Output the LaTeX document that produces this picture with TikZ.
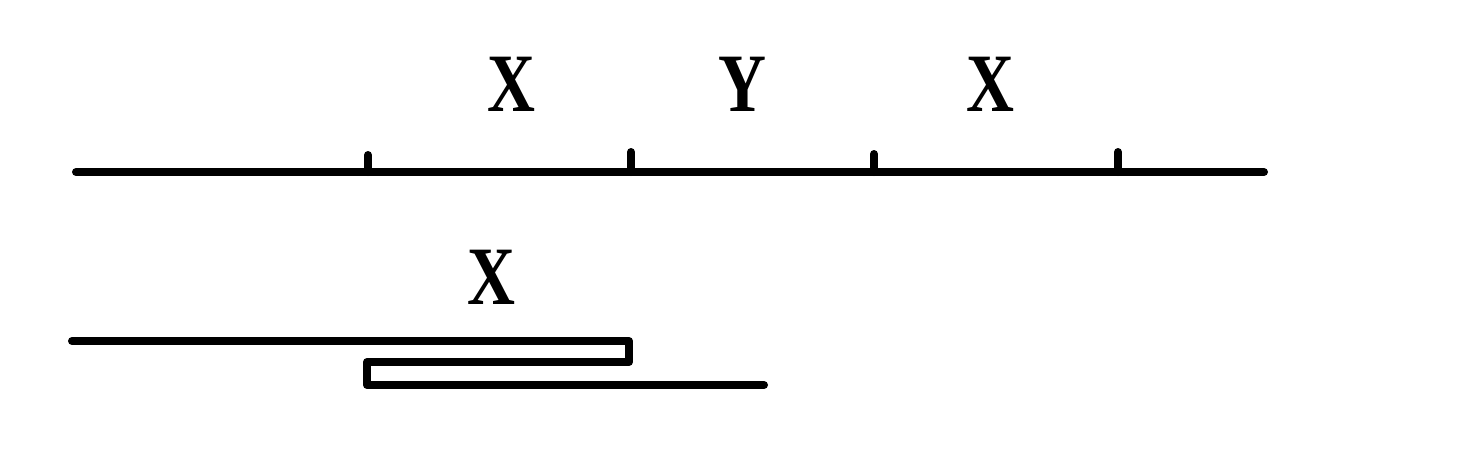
\documentclass[tikz,border=0pt]{standalone}
\usepackage{fontspec}
\setmainfont{Liberation Serif}
\newfontfamily\lblfont[FakeStretch=0.8]{Liberation Serif}
\begin{document}
\begin{tikzpicture}[x=1pt,y=-1pt,
  thick line/.style={line width=8pt,line cap=round,line join=round},
  lbl/.style={font=\fontsize{83}{83}\lblfont\bfseries,inner sep=0pt,anchor=base}]
\useasboundingbox (0,0) rectangle (1475,455);
% top axis
\coordinate (a0) at (76,172);
\coordinate (a1) at (1264,172);
\draw[thick line] (a0) -- (a1);
\foreach \x/\t [count=\i] in {368/155,631/152,874/154,1118/152}{
  \coordinate (t\i) at (\x,172);
  \coordinate (u\i) at (\x,\t);
  \draw[thick line] (t\i) -- (u\i);
}
\node[lbl] (x1) at (511,111) {X};
\node[lbl] (y1) at (742,111) {Y};
\node[lbl] (x2) at (990,111) {X};
% bottom folded line
\node[lbl] (x3) at (491,304) {X};
\coordinate (b0) at (72,341);
\coordinate (b1) at (629,341);
\coordinate (b2) at (629,362);
\coordinate (b3) at (367,362);
\coordinate (b4) at (367,385);
\coordinate (b5) at (764,385);
\draw[thick line] (b0) -- (b1) -- (b2) -- (b3) -- (b4) -- (b5);
\end{tikzpicture}
\end{document}
